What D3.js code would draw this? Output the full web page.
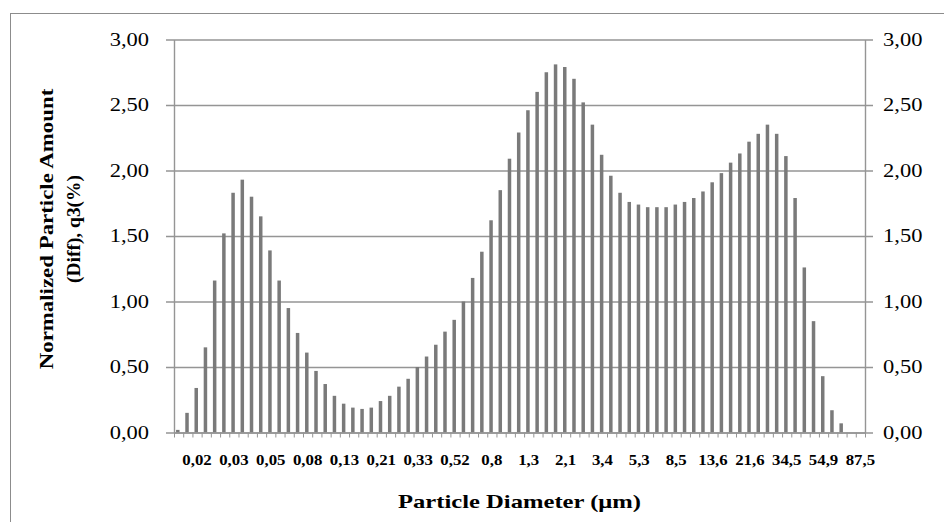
<!DOCTYPE html>
<html>
<head>
<meta charset="utf-8">
<script src="https://cdn.jsdelivr.net/npm/d3@7"></script>
<style>
  body { margin: 0; background: #fff; }
  svg text { font-family: "Liberation Serif", "Times New Roman", serif; fill: #000; }
</style>
</head>
<body>
<div id="chart"></div>
<script>
// particle size classes (µm), one bar each
const diameters = [
  0.0159, 0.0178, 0.020, 0.0225, 0.025, 0.028, 0.032, 0.036, 0.040, 0.045,
  0.051, 0.057, 0.064, 0.072, 0.081, 0.091, 0.102, 0.115, 0.13, 0.145,
  0.16, 0.18, 0.21, 0.23, 0.26, 0.29, 0.33, 0.37, 0.41, 0.46,
  0.52, 0.58, 0.66, 0.74, 0.83, 0.93, 1.05, 1.17, 1.3, 1.49,
  1.67, 1.88, 2.1, 2.37, 2.66, 2.99, 3.4, 3.77, 4.23, 4.76,
  5.3, 6.0, 6.8, 7.6, 8.5, 9.6, 10.8, 12.1, 13.6, 15.3,
  17.1, 19.3, 21.6, 24.3, 27.3, 30.7, 34.5, 38.7, 43.5, 48.9,
  54.9, 61.7, 69.3, 77.9, 87.5
];

// q3 (%)
const q3 = [
  0.02, 0.15, 0.34, 0.65, 1.16, 1.52, 1.83, 1.93, 1.80, 1.65,
  1.39, 1.16, 0.95, 0.76, 0.61, 0.47, 0.37, 0.28, 0.22, 0.19,
  0.18, 0.19, 0.24, 0.28, 0.35, 0.41, 0.50, 0.58, 0.67, 0.77,
  0.86, 1.00, 1.18, 1.38, 1.62, 1.85, 2.09, 2.29, 2.46, 2.60,
  2.75, 2.81, 2.79, 2.70, 2.52, 2.35, 2.12, 1.96, 1.83, 1.76,
  1.74, 1.72, 1.72, 1.72, 1.74, 1.76, 1.79, 1.84, 1.91, 1.98,
  2.06, 2.13, 2.22, 2.28, 2.35, 2.28, 2.11, 1.79, 1.26, 0.85,
  0.43, 0.17, 0.07, 0, 0
];

const yTicks = [0, 0.5, 1, 1.5, 2, 2.5, 3];
const xTickLabels = ['0,02', '0,03', '0,05', '0,08', '0,13', '0,21', '0,33', '0,52', '0,8',
  '1,3', '2,1', '3,4', '5,3', '8,5', '13,6', '21,6', '34,5', '54,9', '87,5'];

const width = 944;
const height = 522;
const plot = { left: 174, right: 865, top: 39.5, bottom: 432.5 };
const grey = '#959595';

const svg = d3.select('#chart')
  .append('svg')
  .attr('width', width)
  .attr('height', height);

// outer frame
svg.append('rect')
  .attr('x', 10.5).attr('y', 13.5)
  .attr('width', 960).attr('height', 600)
  .attr('fill', 'none')
  .attr('stroke', '#8c8c8c');

const idx = d3.range(diameters.length);
const x = d3.scaleBand().domain(idx).range([plot.left, plot.right]);
const xEdge = d3.scaleLinear().domain([0, idx.length]).range([plot.left, plot.right]);
const y = d3.scaleLinear().domain([0, 3]).range([plot.bottom, plot.top]);

const fmt = (d) => d3.format('.2f')(d).replace('.', ',');

function stretch(sel, k) {
  sel.each(function () {
    const w = this.getComputedTextLength();
    d3.select(this).attr('textLength', w * k).attr('lengthAdjust', 'spacingAndGlyphs');
  });
}

// gridlines, a bit past both axes
svg.append('g')
  .attr('transform', `translate(${plot.right + 8},0)`)
  .call(d3.axisLeft(y).tickValues(yTicks).tickFormat('').tickSize(plot.right - plot.left + 16))
  .call((g) => g.select('.domain').remove())
  .call((g) => g.selectAll('line').attr('stroke', grey).attr('stroke-width', 1.4));

// bars
const barW = 3.5;
svg.append('g')
  .selectAll('rect')
  .data(q3)
  .join('rect')
  .attr('x', (d, i) => x(i) + x.bandwidth() / 2 - barW / 2 - 0.8)
  .attr('y', (d) => y(d))
  .attr('width', barW)
  .attr('height', (d) => y(0) - y(d))
  .attr('fill', '#7a7a7a');

// left axis
const left = svg.append('g')
  .attr('transform', `translate(${plot.left},0)`)
  .call(d3.axisLeft(y).tickValues(yTicks).tickSize(0).tickSizeOuter(0).tickPadding(25).tickFormat(fmt));
left.select('.domain').attr('stroke', grey).attr('stroke-width', 1.4);
left.selectAll('text').attr('font-size', 18).call(stretch, 1.25);

// right axis
const right = svg.append('g')
  .attr('transform', `translate(${plot.right},0)`)
  .call(d3.axisRight(y).tickValues(yTicks).tickSize(0).tickSizeOuter(0).tickPadding(18).tickFormat(fmt));
right.select('.domain').attr('stroke', grey).attr('stroke-width', 1.4);
right.selectAll('text').attr('font-size', 18).call(stretch, 1.25);

// category boundary ticks
const edges = svg.append('g')
  .attr('transform', `translate(0,${plot.bottom})`)
  .call(d3.axisBottom(xEdge).tickValues(d3.range(idx.length + 1)).tickFormat('').tickSize(5).tickSizeOuter(0));
edges.select('.domain').attr('stroke', grey).attr('stroke-width', 1.4);
edges.selectAll('line').attr('stroke', grey);

// category labels, every 4th class
const xAxis = svg.append('g')
  .attr('transform', `translate(0,${plot.bottom})`)
  .call(d3.axisBottom(x)
    .tickValues(idx.filter((i) => i % 4 === 2))
    .tickSize(0)
    .tickPadding(23)
    .tickFormat((i) => xTickLabels[(i - 2) / 4]));
xAxis.select('.domain').remove();
xAxis.selectAll('text')
  .attr('font-size', 14)
  .attr('font-weight', 'bold')
  .call(stretch, 1.2);

// axis titles
svg.append('text')
  .attr('x', (plot.left + plot.right) / 2)
  .attr('y', 508)
  .attr('text-anchor', 'middle')
  .attr('font-size', 19)
  .attr('font-weight', 'bold')
  .attr('textLength', 243)
  .attr('lengthAdjust', 'spacingAndGlyphs')
  .text('Particle Diameter (μm)');

const yTitle = [
  { text: 'Normalized Particle Amount', x: 53, k: 1.27 },
  { text: '(Diff), q3(%)', x: 80, k: 1.08 }
];
svg.selectAll('.ytitle')
  .data(yTitle)
  .join('text')
  .attr('class', 'ytitle')
  .attr('transform', (d) => `translate(${d.x},229) rotate(-90)`)
  .attr('text-anchor', 'middle')
  .attr('font-size', 18)
  .attr('font-weight', 'bold')
  .text((d) => d.text)
  .each(function (d) { d3.select(this).call(stretch, d.k); });
</script>
</body>
</html>
